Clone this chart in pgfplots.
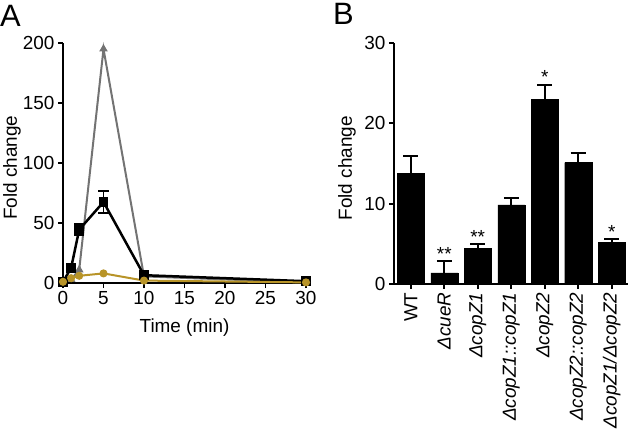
\documentclass[border=0pt]{standalone}
\usepackage{fontspec}
\setmainfont{Liberation Sans}
\usepackage{pgfplots}
\pgfplotsset{compat=1.18}
\definecolor{goldline}{RGB}{184,148,40}
\definecolor{grayline}{RGB}{115,115,115}
\begin{document}
\begin{tikzpicture}
\path[use as bounding box] (0bp,0bp) rectangle (633bp,431bp);
\pgfplotsset{
  mystyle/.style={
    scale only axis, axis lines=left, axis line style={-, line width=2bp},
    tick align=outside, major tick length=5bp,
    tick style={line width=1.8bp, black},
    tick label style={font=\fontsize{19}{21}\selectfont},
    label style={font=\fontsize{19}{22}\selectfont},
    /pgf/number format/assume math mode=true,
    clip=false,
  }
}
\node[anchor=north west, inner sep=0pt, font=\fontsize{31}{33}\selectfont] at (0bp,426bp) {A};
\node[anchor=north west, inner sep=0pt, font=\fontsize{31}{33}\selectfont] at (333bp,428bp) {B};
\begin{axis}[mystyle, at={(63bp,148bp)}, anchor=south west, width=243bp, height=240bp,
  xmin=0, xmax=30, ymin=0, ymax=200,
  xtick={0,5,...,30}, ytick={0,50,...,200},
  xlabel={Time (min)}, ylabel={Fold change},
  xlabel style={at={(axis description cs:0.5,0)}, anchor=center, yshift=-45bp},
  ylabel style={at={(axis description cs:0,0.48)}, anchor=center, yshift=51bp},
]
\addplot[grayline, line width=2bp, mark=triangle*, mark size=3bp] coordinates {
  (0,0.5) (1,3) (2,11) (5,195) (10,5.5) (30,0.5)};
\addplot[black, line width=2.5bp, mark=square*, mark size=3.5bp,
  error bars/.cd, y dir=both, y explicit,
  error bar style={line width=1.8bp},
  error mark options={rotate=90, mark size=5bp, line width=1.8bp}] coordinates {
  (0,1) +- (0,0)
  (1,12.5) +- (0,1.5)
  (2,44.5) +- (0,4.5)
  (5,67.5) +- (0,9)
  (10,6.5) +- (0,1)
  (30,1.5) +- (0,0.5)};
\addplot[goldline, line width=2bp, mark=*, mark size=3bp] coordinates {
  (0,1) (1,4) (2,6) (5,8) (10,2) (30,0.5)};
\end{axis}
\begin{axis}[mystyle, at={(394bp,147bp)}, anchor=south west, width=234.5bp, height=241bp,
  xmin=-0.5, xmax=6.5, ymin=0, ymax=30,
  ytick={0,10,20,30}, xtick={0,...,6},
  xticklabels={WT, {\itshape ΔcueR}, {\itshape ΔcopZ1}, {\itshape ΔcopZ1::copZ1}, {\itshape ΔcopZ2}, {\itshape ΔcopZ2::copZ2}, {\itshape ΔcopZ1/ΔcopZ2}},
  xticklabel style={rotate=90, anchor=east, font=\fontsize{19}{22}\selectfont},
  ylabel={Fold change},
  ylabel style={at={(axis description cs:0,0.48)}, anchor=center, yshift=47bp},
]
\addplot[ybar, bar width=27bp, fill=black, draw=black,
  error bars/.cd, y dir=plus, y explicit,
  error bar style={line width=2bp},
  error mark options={rotate=90, mark size=7.5bp, line width=2bp}] coordinates {
  (0,13.8) +- (0,2.1)
  (1,1.4) +- (0,1.5)
  (2,4.45) +- (0,0.5)
  (3,9.85) +- (0,0.85)
  (4,23.0) +- (0,1.8)
  (5,15.1) +- (0,1.2)
  (6,5.15) +- (0,0.45)};
\node[anchor=base, font=\fontsize{19}{22}\selectfont] at (axis cs:1,2.95) {**};
\node[anchor=base, font=\fontsize{19}{22}\selectfont] at (axis cs:2,5.0) {**};
\node[anchor=base, font=\fontsize{19}{22}\selectfont] at (axis cs:4,24.9) {*};
\node[anchor=base, font=\fontsize{19}{22}\selectfont] at (axis cs:6,5.65) {*};
\end{axis}
\end{tikzpicture}
\end{document}
